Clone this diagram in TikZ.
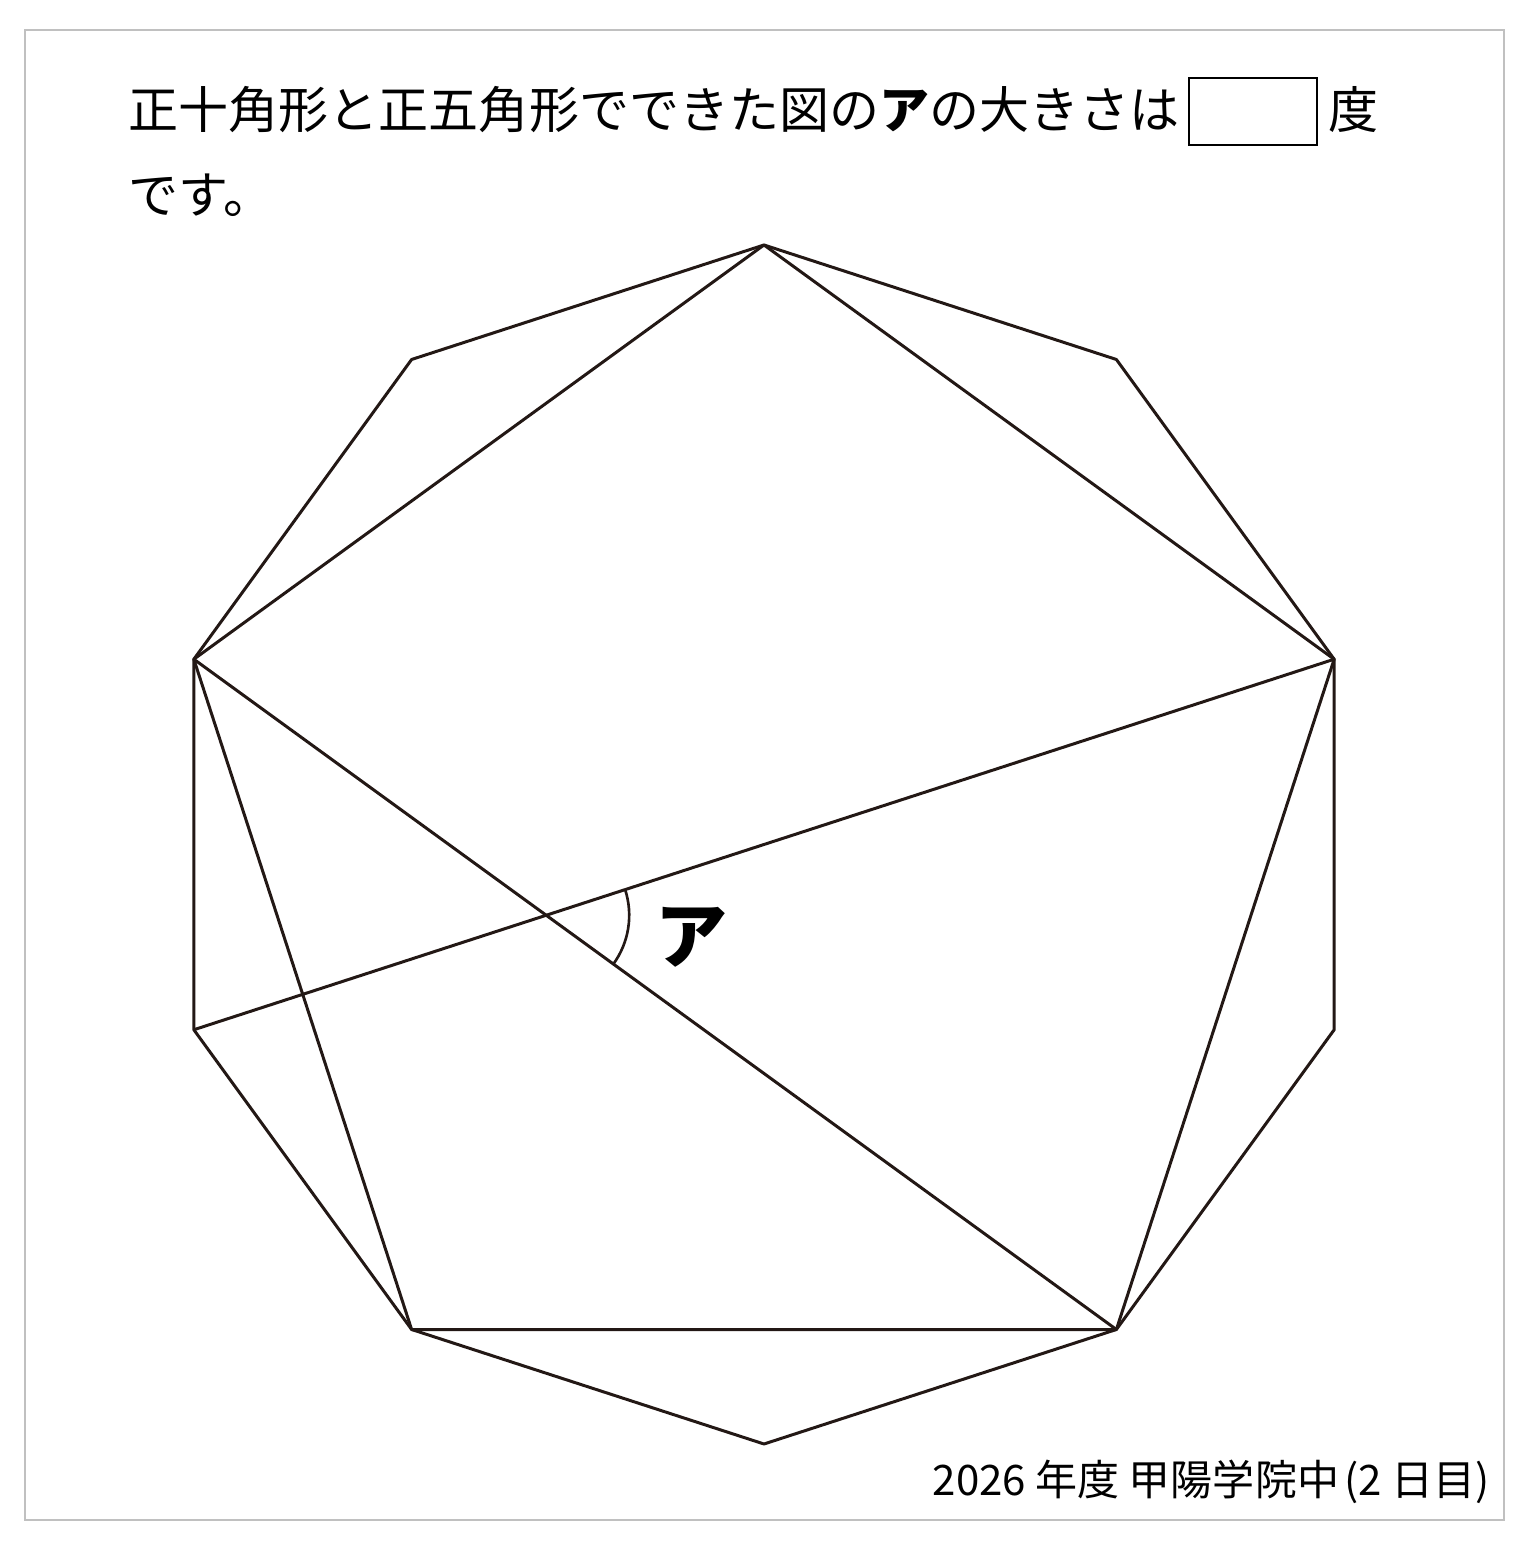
\documentclass[tikz,border=0pt]{standalone}
\usepackage{fontspec}
\setmainfont{Noto Sans CJK JP}
\usetikzlibrary{calc}
\definecolor{ink}{RGB}{35,24,21}
\definecolor{framegray}{RGB}{192,192,192}
\begin{document}
\begin{tikzpicture}[x=0.01cm,y=0.01cm,
  edge/.style={draw=ink,line width=0.85pt,line join=round},
  txt/.style={inner sep=0pt,font=\fontsize{14.23pt}{17pt}\selectfont}]
\useasboundingbox (0,0) rectangle (1529,1554);
\draw[framegray,line width=0.6pt] (25,34) rectangle (1504,1524);
% decagon
\coordinate (O) at (764,709.5);
\foreach \k in {0,...,9}{
  \coordinate (v\k) at ($(O)+(90+36*\k:599.5)$);
}
\draw[edge] (v0)--(v1)--(v2)--(v3)--(v4)--(v5)--(v6)--(v7)--(v8)--(v9)--cycle;
% pentagon
\draw[edge] (v0)--(v2)--(v4)--(v6)--(v8)--cycle;
% diagonals
\draw[edge] (v2)--(v6);
\draw[edge] (v3)--(v8);
\coordinate (X) at (intersection of v2--v6 and v3--v8);
\draw[draw=ink,line width=0.75pt] ($(X)+(-36:83)$) arc[start angle=-36,end angle=18,radius=83];
\node[inner sep=0pt,font=\fontsize{20.5pt}{24pt}\selectfont\bfseries] (lab) at (692,617) {ア};
% text
\node[txt,anchor=west] (t1) at (128,1444) {正十角形と正五角形でできた図の{\bfseries ア}の大きさは};
\node[draw=black,line width=0.6pt,minimum width=1.28cm,minimum height=0.67cm,inner sep=0pt,anchor=west] (box) at (1188,1442.5) {};
\node[txt,anchor=west] (t2) at (1328,1444) {度};
\node[txt,anchor=west] (t3) at (128,1359) {です。};
\node[inner sep=0pt,anchor=east,font=\fontsize{11.95pt}{14pt}\selectfont] (src) at (1490,72) {2026 年度 甲陽学院中\kern0.12em(2 日目)};
\end{tikzpicture}
\end{document}
